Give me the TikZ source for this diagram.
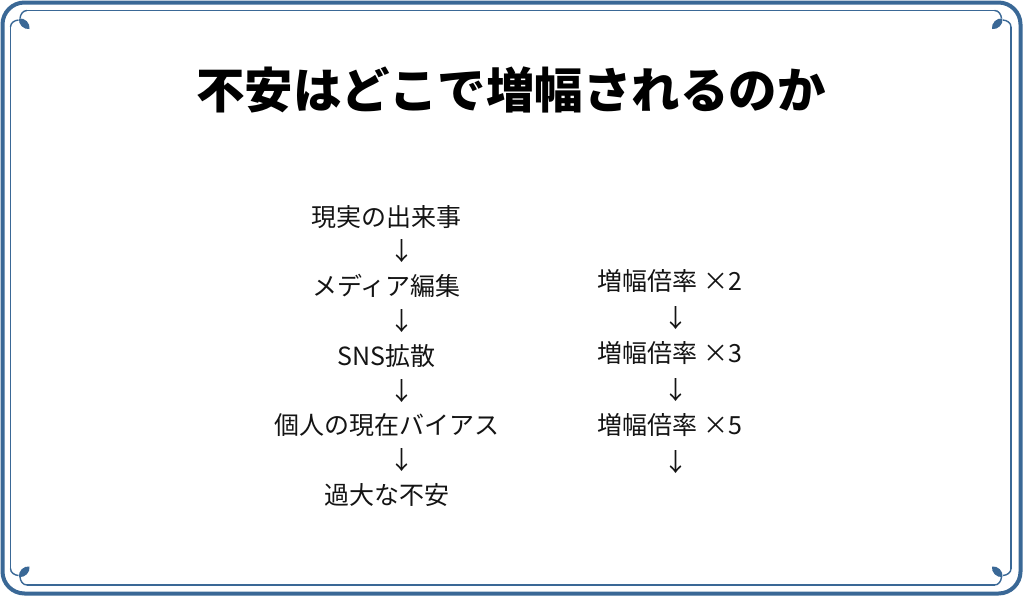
\documentclass[tikz,border=0pt]{standalone}
\usepackage{fontspec}
\setmainfont{Noto Sans CJK JP}
\usepackage{xcolor}
\usepackage{tikz}
\usetikzlibrary{positioning,calc}
\definecolor{framecol}{RGB}{58,104,150}
\definecolor{textcol}{RGB}{20,20,20}

% corner ornament, drawn at the inner corner
\newcommand{\cornerleaf}{%
    \draw [thinframe] (16.5,0) to[out=180,in=85] (9.5,-8);
    \draw [thinframe] (0,-16.5) to[out=90,in=185] (8,-9.5);
    \fill [framecol] (8.5,-8) to[bend left=55] (19,-18.5) to[bend left=55] (8.5,-8);
}

\begin{document}
\begin{tikzpicture}[x=1pt, y=1pt,
    thinframe/.style={framecol, line width=1.4pt},
    line/.style={inner sep=0pt, text=textcol, font=\fontsize{25}{30}\selectfont},
    titletext/.style={inner sep=0pt, text=black, font=\fontsize{48.5}{58}\selectfont\bfseries}]
    \useasboundingbox (0,0) rectangle (1024,-597);
    \fill [white] (0,0) rectangle (1024,-597);

    % frame
    \draw [framecol, line width=4pt, rounded corners=22pt] (2.5,-2.5) rectangle (1020.5,-593.5);
    \draw [thinframe] (27,-10.5) -- (994.5,-10.5);
    \draw [thinframe] (27,-585) -- (994.5,-585);
    \draw [thinframe] (10.5,-27) -- (10.5,-568.5);
    \draw [thinframe] (1011,-27) -- (1011,-568.5);
    \begin{scope}[shift={(10.5,-10.5)}] \cornerleaf \end{scope}
    \begin{scope}[shift={(1011,-10.5)}, xscale=-1] \cornerleaf \end{scope}
    \begin{scope}[shift={(10.5,-585)}, yscale=-1] \cornerleaf \end{scope}
    \begin{scope}[shift={(1011,-585)}, xscale=-1, yscale=-1] \cornerleaf \end{scope}

    \node [titletext] (title) at (511,-90) {不安はどこで増幅されるのか};

    % left column
    \node [line] (event) at (386.5,-216.7) {現実の出来事};
    \node [line] (down1) at (402,-251.5) {↓};
    \node [line] (media) at (386.5,-286.3) {メディア編集};
    \node [line] (down2) at (402,-321.1) {↓};
    \node [line] (sns) at (386.5,-355.9) {SNS拡散};
    \node [line] (down3) at (402,-390.7) {↓};
    \node [line] (bias) at (386.5,-425.5) {個人の現在バイアス};
    \node [line] (down4) at (402,-460.3) {↓};
    \node [line] (anxiety) at (386.5,-495.1) {過大な不安};

    % right column
    \node [line] (rate2) at (670,-281) {増幅倍率 ×2};
    \node [line] (up1) at (675.5,-318) {↓};
    \node [line] (rate3) at (670,-353) {増幅倍率 ×3};
    \node [line] (up2) at (675.5,-390) {↓};
    \node [line] (rate5) at (670,-425.5) {増幅倍率 ×5};
    \node [line] (up3) at (675.5,-462) {↓};
\end{tikzpicture}
\end{document}
